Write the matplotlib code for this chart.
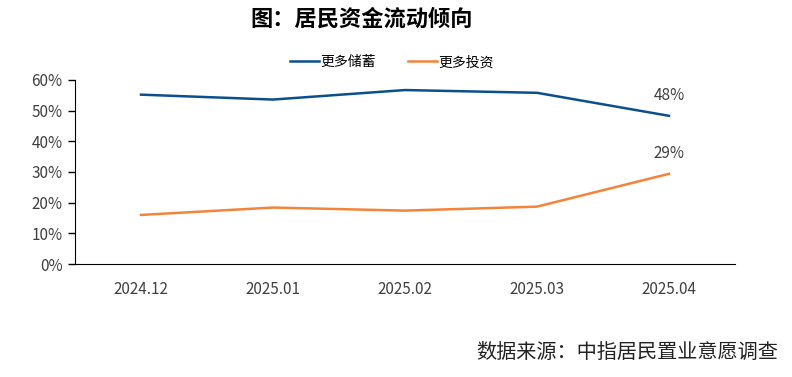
import matplotlib.pyplot as plt
import numpy as np

plt.rcParams['font.family'] = ['Noto Sans CJK SC', 'DejaVu Sans']

months = ["2024.12", "2025.01", "2025.02", "2025.03", "2025.04"]
save_more = [55.2, 53.6, 56.7, 55.8, 48.3]
invest_more = [16.0, 18.4, 17.4, 18.7, 29.4]
end_labels = ["48%", "29%"]
yticks = [0, 10, 20, 30, 40, 50, 60]

blue = "#0b4f8c"
orange = "#f4843a"
grey = "#404040"

fig = plt.figure(figsize=(7.92, 3.77), dpi=100)
ax = fig.add_axes([0.0947, 0.2997, 0.8333, 0.4883])

x = np.arange(len(months))
ax.plot(x, save_more, color=blue, lw=1.8, label="更多储蓄")
ax.plot(x, invest_more, color=orange, lw=1.8, label="更多投资")

ax.text(x[-1], save_more[-1] + 4, end_labels[0], ha="center", va="bottom", fontsize=11, color=grey)
ax.text(x[-1], invest_more[-1] + 4, end_labels[1], ha="center", va="bottom", fontsize=11, color=grey)

ax.set_xlim(-0.5, len(months) - 0.5)
ax.set_ylim(0, 60)
ax.set_yticks(yticks)
ax.set_yticklabels([f"{v}%" for v in yticks])
ax.set_xticks(x)
ax.set_xticklabels(months)
ax.tick_params(axis="x", length=0, pad=12, labelsize=11, colors=grey)
ax.tick_params(axis="y", length=5, width=1, direction="out", labelsize=11, labelcolor=grey, pad=4)

for s in ["top", "right"]:
    ax.spines[s].set_visible(False)
ax.spines["left"].set_color("black")
ax.spines["bottom"].set_color("black")

fig.legend(loc="center", bbox_to_anchor=(0.495, 0.835), ncol=2, frameon=False,
           fontsize=10, handlelength=2.1, columnspacing=2.3, handletextpad=0.1)

fig.text(0.457, 0.948, "图：居民资金流动倾向", ha="center", va="center", fontsize=16, fontweight="bold", color="black")
fig.text(0.982, 0.065, "数据来源：中指居民置业意愿调查", ha="right", va="center", fontsize=14.5, color="#222222")

fig.savefig("out.png", dpi=100)
